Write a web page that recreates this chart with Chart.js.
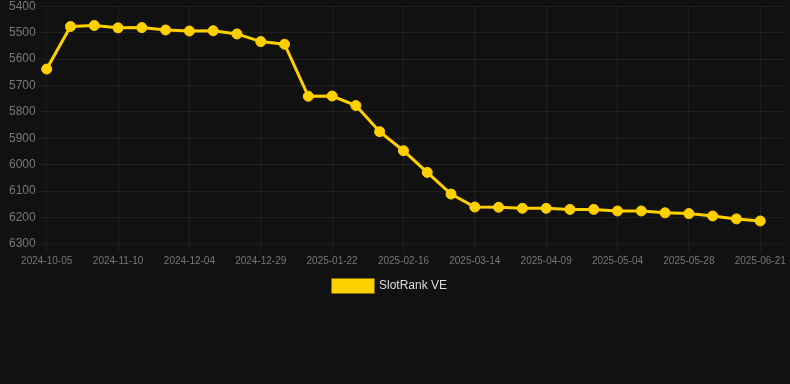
<!DOCTYPE html>
<html>
<head>
<meta charset="utf-8">
<script src="https://cdn.jsdelivr.net/npm/chart.js@4/dist/chart.umd.min.js"></script>
<style>
  html, body { margin: 0; padding: 0; background: #111111; }
  .wrap { width: 790px; height: 306px; margin-top: -4px; }
</style>
</head>
<body>
<div class="wrap"><canvas id="rankChart"></canvas></div>
<script>
// ── Data ──
// Dates: every 3rd one is read off the axis, the ones between are estimates
const dates = [
    '2024-10-05', '2024-10-17', '2024-10-29', '2024-11-10', '2024-11-18', '2024-11-26',
    '2024-12-04', '2024-12-12', '2024-12-20', '2024-12-29', '2025-01-06', '2025-01-14',
    '2025-01-22', '2025-01-30', '2025-02-08', '2025-02-16', '2025-02-24', '2025-03-05',
    '2025-03-14', '2025-03-22', '2025-03-31', '2025-04-09', '2025-04-17', '2025-04-26',
    '2025-05-04', '2025-05-12', '2025-05-20', '2025-05-28', '2025-06-05', '2025-06-13',
    '2025-06-21', '2025-06-29'
];
const rankVE = [
    5638, 5477, 5473, 5482, 5481, 5490, 5494, 5493, 5505, 5534, 5544,
    5741, 5740, 5776, 5875, 5947, 6029, 6111, 6160, 6161, 6165,
    6165, 6169, 6169, 6175, 6175, 6182, 6185, 6194, 6205, 6213
];
const yMin = 5400;
const yMax = 6300;

const gold = '#FFD000';
const gridColor = 'rgba(255,255,255,0.06)';
const fontFamily = 'Arial, "Liberation Sans", sans-serif';

// nudges the bottom legend a little to the left, like in the original
const legendShift = {
    id: 'legendShift',
    afterLayout(chart) {
        if (chart.legend) { chart.legend.left -= 8; chart.legend.right -= 8; }
    }
};

new Chart(document.getElementById('rankChart'), {
    type: 'line',
    data: {
        labels: dates,
        datasets: [{
            label: 'SlotRank VE',
            data: rankVE,
            borderColor: gold,
            backgroundColor: gold,
            borderWidth: 3,
            pointRadius: 5,
            pointBorderWidth: 1,
            pointBackgroundColor: gold,
            pointBorderColor: gold,
            tension: 0
        }]
    },
    options: {
        responsive: true,
        maintainAspectRatio: false,
        animation: false,
        layout: { padding: { left: 6 } },
        plugins: {
            legend: {
                position: 'bottom',
                labels: { color: '#dddddd', font: { family: fontFamily, size: 12 } }
            },
            tooltip: { enabled: false }
        },
        scales: {
            x: {
                grid: { color: gridColor },
                ticks: {
                    color: '#777777',
                    font: { family: fontFamily, size: 10 },
                    maxRotation: 0,
                    autoSkip: true
                }
            },
            y: {
                reverse: true,
                min: yMin,
                max: yMax,
                grid: { color: gridColor },
                ticks: {
                    color: '#777777',
                    stepSize: 100,
                    font: { family: fontFamily, size: 12 },
                    callback: v => String(v)   // plain numbers, no thousands separator
                }
            }
        }
    },
    plugins: [legendShift]
});
</script>
</body>
</html>
